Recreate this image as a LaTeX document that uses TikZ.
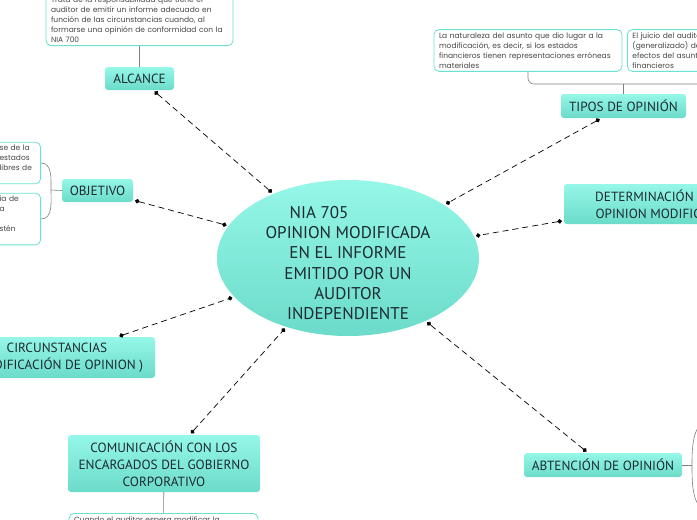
\documentclass[tikz,border=0pt]{standalone}
\usepackage{fontspec}
\setmainfont{PT Sans}
\newfontfamily\notefont{Poppins}
\usetikzlibrary{arrows.meta,shapes.geometric}

\definecolor{tealtop}{HTML}{95F7E8}
\definecolor{tealbot}{HTML}{6CDBC9}
\definecolor{tealline}{HTML}{6AE2CF}
\definecolor{inktext}{HTML}{1C2A31}

\tikzset{
    mainidea/.style={ellipse, minimum width=262pt, minimum height=156pt, inner sep=0pt,
        top color=tealtop, bottom color=tealbot},
    maintext/.style={align=center, text=inktext, inner sep=0pt,
        font=\fontsize{17}{20.2}\selectfont},
    topic/.style={rounded corners=3pt, top color=tealtop, bottom color=tealbot, inner sep=0pt,
        align=center, text=inktext, font=\fontsize{13.3}{17}\selectfont},
    note/.style={rounded corners=5pt, draw=tealline, line width=0.8pt, fill=white,
        inner xsep=5pt, inner ysep=3pt, align=left, text=black!72,
        font=\notefont\fontsize{7.5}{10}\selectfont},
    link/.style={line width=0.7pt, dash pattern=on 6pt off 4pt,
        {Circle[length=4.5pt]}-{Circle[length=4.5pt]}, shorten <=2pt, shorten >=2pt},
    bracket/.style={draw=black!50, line width=0.6pt}
}

\begin{document}
\begin{tikzpicture}[x=1pt, y=-1pt]
    \useasboundingbox (0,0) rectangle (697,520);
    \clip (0,0) rectangle (697,520);

    % central idea
    \node[mainidea] (main) at (348,258) {};
    \node[maintext] (maintitle) at (348,263) {{NIA 705\hspace*{58pt}}\\OPINION MODIFICADA\\EN EL INFORME\\EMITIDO POR UN\\AUDITOR\\INDEPENDIENTE};

    % main topics
    \node[topic, minimum width=69pt, minimum height=23pt] (alcance) at (139.5,78.5) {ALCANCE};
    \node[topic, minimum width=125pt, minimum height=24pt] (tipos) at (623.5,106) {TIPOS DE OPINIÓN};
    \node[topic, minimum width=192pt, minimum height=40pt] (determ) at (660,204) {DETERMINACIÓN TIPO\\OPINION MODIFICADA};
    \node[topic, minimum width=71pt, minimum height=23pt] (objetivo) at (97.5,190.5) {OBJETIVO};
    \node[topic, minimum width=196pt, minimum height=41pt] (circ) at (57,357.5) {CIRCUNSTANCIAS\\(MODIFICACIÓN DE OPINION )};
    \node[topic, minimum width=192pt, minimum height=57pt] (comun) at (164,463.5) {COMUNICACIÓN CON LOS\\ENCARGADOS DEL GOBIERNO\\CORPORATIVO};
    \node[topic, minimum width=158pt, minimum height=24pt] (abst) at (603,465) {ABTENCIÓN DE OPINIÓN};

    % notes
    \node[note, text width=177pt, anchor=south] (alcnote) at (139.5,46) {Trata de la responsabilidad que tiene el\\auditor de emitir un informe adecuado en\\función de las circunstancias cuando, al\\formarse una opinión de conformidad con la\\NIA 700};
    \node[note, text width=178pt] (tnote1) at (528,50.5) {La naturaleza del asunto que dio lugar a la\\modificación, es decir, si los estados\\financieros tienen representaciones erróneas\\materiales};
    \node[note, text width=178pt, anchor=west] (tnote2) at (627,50.5) {El juicio del auditor sobre la\\(generalizado) de los\\efectos del asunto en los estados\\financieros};
    \node[note, text width=36pt, anchor=east] (onote1) at (41,163) {se de la\\estados\\libres de\\\mbox{}};
    \node[note, text width=36pt, anchor=east] (onote2) at (41,219) {ia de\\a\\\mbox{}\\stén\\\mbox{}};
    \node[note, text width=179pt, anchor=north] (cnote) at (163.5,513) {Cuando el auditor espera modificar la};

    % links to the central idea
    \draw[link] (alcance) -- (main);
    \draw[link] (tipos) -- (main);
    \draw[link] (determ) -- (main);
    \draw[link] (objetivo) -- (main);
    \draw[link] (circ) -- (main);
    \draw[link] (comun) -- (main);
    \draw[link] (abst) -- (main);

    % brackets to the notes
    \draw[bracket] (alcnote) -- (alcance);
    \draw[bracket] (comun) -- (cnote);
    \coordinate (tbar) at (600,84);
    \draw[bracket] (tipos.north) -- (tipos.north |- tbar);
    \draw[bracket, rounded corners=6pt] (tnote1.south) |- (tnote2.south |- tbar) -- (tnote2.south);
    \coordinate (ojoin) at (51,190);
    \draw[bracket] (objetivo.west) -- (ojoin);
    \draw[bracket] (onote1.east) to[out=0, in=90] (ojoin) to[out=-90, in=0] (onote2.east);
    \coordinate (ajoin) at (692,465);
    \coordinate (aup) at (712,420);
    \coordinate (adown) at (712,512);
    \draw[bracket] (abst.east) -- (ajoin);
    \draw[bracket] (aup) to[out=180, in=90] (ajoin) to[out=-90, in=180] (adown);
\end{tikzpicture}
\end{document}
